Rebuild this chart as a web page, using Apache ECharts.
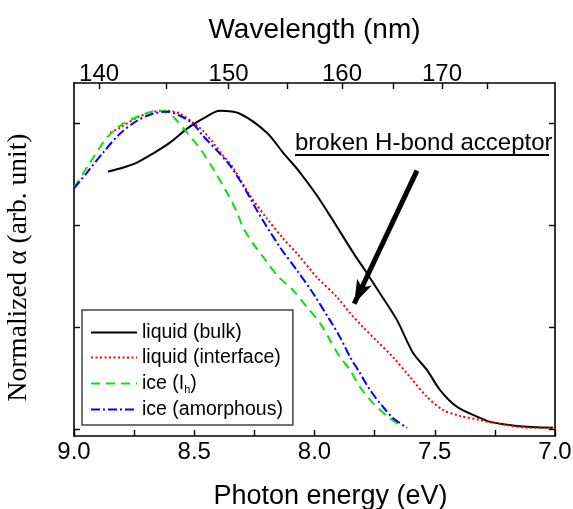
<!DOCTYPE html>
<html><head><meta charset="utf-8">
<script src="https://cdn.jsdelivr.net/npm/echarts@6/dist/echarts.min.js"></script>
<style>html,body{margin:0;padding:0;background:#fff}#c{width:573px;height:509px}</style>
</head><body><div id="c"></div>
<script>
// ---- data (photon energy in eV, normalized absorption in arb. units) ----
const bulkE = [8.859,8.809,8.738,8.672,8.601,8.530,8.464,8.393,8.310,8.198,8.131,8.060,7.990,7.923,7.840,7.798,7.728,7.657,7.590,7.532,7.478,7.407,7.312,7.270,7.158,7.008];
const bulkA = [2.529,2.559,2.618,2.706,2.814,2.951,3.049,3.127,3.098,2.912,2.716,2.520,2.294,2.049,1.735,1.588,1.333,1.069,0.745,0.578,0.382,0.216,0.108,0.069,0.029,0.010];

const interfE = [8.850,8.809,8.738,8.672,8.613,8.559,8.505,8.464,8.422,8.380,8.339,8.268,8.198,8.131,8.073,7.990,7.906,7.852,7.798,7.740,7.674,7.603,7.532,7.466,7.395,7.312,7.258,7.091,7.008];
const interfA = [2.912,2.961,3.059,3.118,3.127,3.098,3.010,2.931,2.814,2.686,2.569,2.294,2.069,1.873,1.725,1.490,1.294,1.137,1.000,0.863,0.706,0.510,0.314,0.186,0.127,0.088,0.059,0.010,0.010];

const iceE = [9.000,8.933,8.863,8.796,8.726,8.655,8.613,8.572,8.530,8.476,8.422,8.364,8.322,8.297,8.256,8.206,8.152,8.089,8.031,7.977,7.936,7.894,7.852,7.811,7.761,7.694,7.632];
const iceA = [2.373,2.618,2.863,3.000,3.078,3.127,3.118,3.029,2.912,2.755,2.559,2.324,2.127,1.980,1.824,1.667,1.500,1.363,1.196,1.039,0.873,0.706,0.578,0.412,0.265,0.118,0.020];

const amorE = [9.000,8.946,8.879,8.809,8.738,8.672,8.613,8.559,8.505,8.464,8.405,8.351,8.297,8.227,8.143,8.073,8.006,7.936,7.894,7.852,7.811,7.769,7.715,7.674,7.615];
const amorA = [2.363,2.520,2.716,2.902,3.029,3.098,3.118,3.078,3.000,2.882,2.735,2.588,2.392,2.098,1.784,1.559,1.333,1.069,0.902,0.706,0.549,0.382,0.216,0.108,0.010];

const seriesNames = ['liquid (bulk)', 'liquid (interface)', 'ice (Ih)', 'ice (amorphous)'];
const wavelengthLabels = [140, 150, 160, 170];
const wavelengthMinor = [145, 155, 165, 175];
const yTicks = [0, 1, 2, 3];
const arrowFrom = [7.574, 2.539];
const arrowTo = [7.835, 1.23];
const annotationText = 'broken H-bond acceptor';

// top-axis calibration as drawn in the reference figure: E = c + k / lambda
const topK = 1131, topC = 0.817;
const lambdaToE = l => topC + topK / l;
const eToLambda = e => Math.round(topK / (e - topC));

const zip = (a, b) => a.map((v, i) => [v, b[i]]);

const chart = echarts.init(document.getElementById('c'), null, {renderer: 'canvas'});
const sans = 'Liberation Sans';
const axisLine = {show: true, onZero: false, lineStyle: {color: '#000', width: 1.6}};
const tick = {show: true, inside: true, length: 6, lineStyle: {color: '#000', width: 1.4}};

const option = {
  animation: false,
  backgroundColor: '#fff',
  grid: {left: 74, right: 18, top: 83, bottom: 73, containLabel: false, outerBoundsMode: 'none'},
  legend: {
    orient: 'vertical', left: 82, top: 310,
    backgroundColor: '#fff',
    borderColor: '#444', borderWidth: 1.5,
    padding: [12, 10, 5, 8],
    itemWidth: 46, itemHeight: 14, itemGap: 4,
    itemStyle: {opacity: 0},
    data: seriesNames,
    formatter: n => n === 'ice (Ih)' ? 'ice (I{sub|h})' : n,
    textStyle: {
      fontFamily: sans, fontSize: 19.5, color: '#000', lineHeight: 21,
      rich: {sub: {fontFamily: sans, fontSize: 11, lineHeight: 11, padding: [12, 0, 0, 0], color: '#000'}}
    }
  },
  xAxis: [{
    type: 'value', min: 7, max: 9, inverse: true, interval: 0.5, position: 'bottom',
    name: 'Photon energy (eV)', nameLocation: 'middle', nameGap: 47,
    nameTextStyle: {fontFamily: sans, fontSize: 27, color: '#000', padding: [0, 0, 0, 32]},
    axisLine, axisTick: tick,
    minorTick: {show: true, splitNumber: 2, length: 6, lineStyle: {color: '#000', width: 1.4}},
    splitLine: {show: false}, minorSplitLine: {show: false},
    axisLabel: {fontFamily: sans, fontSize: 24, color: '#000', margin: 4, formatter: v => v.toFixed(1)}
  }, {
    type: 'value', min: 7, max: 9, inverse: true, position: 'top',
    name: 'Wavelength (nm)', nameLocation: 'middle', nameGap: 39,
    nameTextStyle: {fontFamily: sans, fontSize: 28, color: '#000'},
    axisLine,
    axisTick: Object.assign({}, tick, {customValues: wavelengthLabels.concat(wavelengthMinor).map(lambdaToE)}),
    splitLine: {show: false},
    axisLabel: {fontFamily: sans, fontSize: 24, color: '#000', margin: -3,
      customValues: wavelengthLabels.map(lambdaToE), formatter: v => String(eToLambda(v))}
  }],
  yAxis: [{
    type: 'value', min: -0.07, max: 3.4, position: 'left',
    name: 'Normalized α (arb. unit)', nameLocation: 'middle', nameGap: 41, nameRotate: 90,
    nameTextStyle: {fontFamily: 'Liberation Serif', fontSize: 27.5, color: '#000', padding: [0, 16, 0, 0]},
    axisLine, axisTick: Object.assign({}, tick, {customValues: yTicks}),
    axisLabel: {show: false, customValues: yTicks}, splitLine: {show: false}
  }, {
    type: 'value', min: -0.07, max: 3.4, position: 'right',
    axisLine, axisTick: Object.assign({}, tick, {customValues: yTicks}),
    axisLabel: {show: false, customValues: yTicks}, splitLine: {show: false}
  }],
  series: [
    {name: seriesNames[0], type: 'line', data: zip(bulkE, bulkA), symbol: 'none', smooth: 0.3,
     lineStyle: {color: '#000', width: 2}, itemStyle: {color: '#000'},
     markLine: {silent: true, animation: false, label: {show: false},
       lineStyle: {color: '#000', width: 5, type: 'solid'},
       data: [[{coord: arrowFrom, symbol: 'none'}, {coord: arrowTo, symbol: 'arrow', symbolSize: [12, 24]}]]}},
    {name: seriesNames[1], type: 'line', data: zip(interfE, interfA), symbol: 'none', smooth: 0.3,
     lineStyle: {color: '#ff0000', width: 2, type: [2, 2.5]}, itemStyle: {color: '#ff0000'}},
    {name: seriesNames[2], type: 'line', data: zip(iceE, iceA), symbol: 'none', smooth: 0.3,
     lineStyle: {color: '#11dd11', width: 2, type: [9, 6]}, itemStyle: {color: '#11dd11'}},
    {name: seriesNames[3], type: 'line', data: zip(amorE, amorA), symbol: 'none', smooth: 0.3,
     lineStyle: {color: '#0000ff', width: 2, type: [9, 3, 2, 3]}, itemStyle: {color: '#0000ff'}}
  ],
  graphic: [{
    type: 'group', left: 295, top: 131,
    children: [
      {type: 'text', style: {text: annotationText, font: '24px "Liberation Sans"', fill: '#000'}},
      {type: 'rect', shape: {x: 0, y: 23, width: 254, height: 2}, style: {fill: '#000'}}
    ]
  }]
};
chart.setOption(option);
</script></body></html>
